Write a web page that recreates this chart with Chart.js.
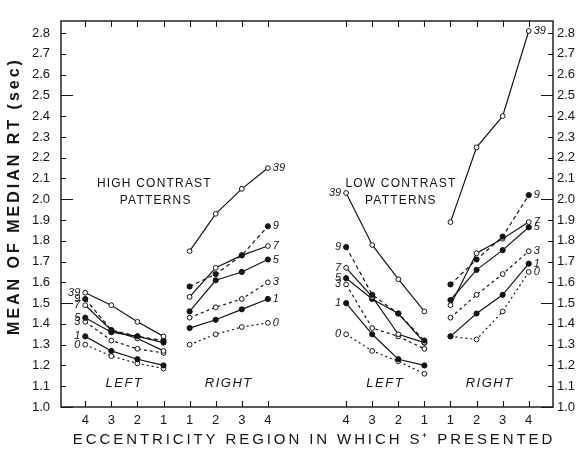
<!DOCTYPE html>
<html>
<head>
<meta charset="utf-8">
<script src="https://cdn.jsdelivr.net/npm/chart.js@4/dist/chart.umd.min.js"></script>
<style>
  html, body { margin: 0; padding: 0; background: #fff; }
</style>
</head>
<body>
<canvas id="rt-chart" width="580" height="451"></canvas>
<script>
// slot positions on the x axis: high contrast left/right, gap, low contrast left/right
const slotX = [0, 1, 2, 3, 4, 5, 6, 7, 10, 11, 12, 13, 14, 15, 16, 17];
const slotLabels = ["4", "3", "2", "1", "1", "2", "3", "4", "4", "3", "2", "1", "1", "2", "3", "4"];
const yTicks = [1.0, 1.1, 1.2, 1.3, 1.4, 1.5, 1.6, 1.7, 1.8, 1.9, 2.0, 2.1, 2.2, 2.3, 2.4, 2.5, 2.6, 2.7, 2.8];

const seriesNames = ["39", "9", "7", "5", "3", "1", "0"];

// mean of median RT (sec), in slot order: HL 4-1, HR 1-4, LL 4-1, LR 1-4
const rt39 = [1.55, 1.49, 1.41, 1.34, 1.75, 1.93, 2.05, 2.15, 2.03, 1.78, 1.615, 1.46, 1.89, 2.25, 2.40, 2.81];
const rt9 = [1.52, 1.37, 1.34, 1.32, 1.58, 1.64, 1.73, 1.87, 1.77, 1.54, 1.45, 1.32, 1.59, 1.71, 1.82, 2.02];
const rt7 = [1.49, 1.37, 1.33, 1.27, 1.53, 1.67, 1.73, 1.775, 1.67, 1.53, 1.35, 1.31, 1.49, 1.74, 1.81, 1.89];
const rt5 = [1.43, 1.36, 1.34, 1.31, 1.46, 1.61, 1.65, 1.71, 1.62, 1.52, 1.45, 1.31, 1.515, 1.66, 1.755, 1.865];
const rt3 = [1.41, 1.32, 1.28, 1.26, 1.43, 1.48, 1.52, 1.60, 1.59, 1.38, 1.34, 1.28, 1.43, 1.54, 1.64, 1.75];
const rt1 = [1.34, 1.27, 1.23, 1.20, 1.38, 1.42, 1.47, 1.52, 1.50, 1.35, 1.23, 1.20, 1.34, 1.45, 1.54, 1.69];
const rt0 = [1.30, 1.245, 1.21, 1.185, 1.30, 1.35, 1.385, 1.405, 1.35, 1.27, 1.22, 1.16, 1.34, 1.325, 1.46, 1.65];

const allSeries = [rt39, rt9, rt7, rt5, rt3, rt1, rt0];
const filledDots = [false, true, false, true, false, true, false];
const dashPatterns = [[], [4, 3], [], [], [3, 3], [], [2, 3]];

const ink = "#151515";

// break the line between each group of four
const toPoints = (vals) => {
  const pts = [];
  vals.forEach((v, i) => {
    pts.push({ x: slotX[i], y: v });
    if (i % 4 === 3 && i < vals.length - 1) pts.push({ x: slotX[i] + 0.5, y: null });
  });
  return pts;
};

const datasets = allSeries.map((vals, i) => ({
  label: seriesNames[i],
  data: toPoints(vals),
  borderColor: ink,
  borderWidth: 1.2,
  borderDash: dashPatterns[i],
  pointRadius: filledDots[i] ? 2.6 : 2.4,
  pointBorderWidth: 1,
  pointBackgroundColor: filledDots[i] ? ink : "#fff",
  pointBorderColor: ink,
  spanGaps: false,
  tension: 0,
}));

// point index (gaps included) where the series name is written
const nameAt = [
  { idx: 0, side: "left" },
  { idx: 8, side: "right" },
  { idx: 10, side: "left" },
  { idx: 18, side: "right" },
];

const paperLook = {
  id: "paperLook",
  afterDraw(chart) {
    const { ctx, chartArea: a } = chart;
    const x = chart.scales.x;
    const y = chart.scales.y;
    ctx.save();
    ctx.strokeStyle = ink;
    ctx.fillStyle = ink;

    // frame
    ctx.lineWidth = 1.4;
    ctx.strokeRect(a.left, a.top, a.right - a.left, a.bottom - a.top);

    // tick marks, all pointing inward
    ctx.lineWidth = 1.1;
    ctx.beginPath();
    slotX.forEach((v) => {
      const px = Math.round(x.getPixelForValue(v)) + 0.5;
      ctx.moveTo(px, a.bottom);
      ctx.lineTo(px, a.bottom - 6);
      ctx.moveTo(px, a.top);
      ctx.lineTo(px, a.top + 6);
    });
    yTicks.forEach((v) => {
      const py = Math.round(y.getPixelForValue(v)) + 0.5;
      const len = Math.round(v * 10) % 5 === 0 ? 12 : 5;
      ctx.moveTo(a.left, py);
      ctx.lineTo(a.left + len, py);
      ctx.moveTo(a.right, py);
      ctx.lineTo(a.right - len, py);
    });
    ctx.stroke();

    // series names at the ends of the lines
    ctx.font = 'italic 11px "Liberation Sans"';
    ctx.textBaseline = "middle";
    chart.data.datasets.forEach((ds, i) => {
      const meta = chart.getDatasetMeta(i);
      nameAt.forEach((n) => {
        const el = meta.data[n.idx];
        if (!el) return;
        if (n.side === "left") {
          ctx.textAlign = "right";
          ctx.fillText(ds.label, el.x - 5, el.y);
        } else {
          ctx.textAlign = "left";
          ctx.fillText(ds.label, el.x + 5, el.y);
        }
      });
    });

    // group captions
    ctx.letterSpacing = "1.5px";
    ctx.font = 'italic 13px "Liberation Sans"';
    ctx.textAlign = "center";
    const captionY = y.getPixelForValue(1.115);
    [[1.5, "LEFT"], [5.5, "RIGHT"], [11.5, "LEFT"], [15.5, "RIGHT"]].forEach(([v, t]) => {
      ctx.fillText(t, x.getPixelForValue(v), captionY);
    });

    ctx.font = '12px "Liberation Sans"';
    ctx.letterSpacing = "1.2px";
    ctx.fillText("HIGH CONTRAST", x.getPixelForValue(2.65), y.getPixelForValue(2.075));
    ctx.fillText("PATTERNS", x.getPixelForValue(2.7), y.getPixelForValue(1.995));
    ctx.fillText("LOW CONTRAST", x.getPixelForValue(12.1), y.getPixelForValue(2.075));
    ctx.fillText("PATTERNS", x.getPixelForValue(12.1), y.getPixelForValue(1.995));

    // axis titles
    ctx.letterSpacing = "2.9px";
    ctx.font = '15px "Liberation Sans"';
    ctx.fillText("ECCENTRICITY REGION IN WHICH S\u207A PRESENTED", 314, 440);

    ctx.translate(15, 196);
    ctx.rotate(-Math.PI / 2);
    ctx.font = 'bold 16px "Liberation Sans"';
    ctx.letterSpacing = "3px";
    ctx.fillText("MEAN OF MEDIAN RT (sec)", 0, 0);
    ctx.restore();
  },
};

const tickFont = { family: "Liberation Sans", size: 13 };

new Chart(document.getElementById("rt-chart"), {
  type: "line",
  data: { datasets },
  options: {
    responsive: false,
    animation: false,
    layout: { padding: { top: 21, left: 0, right: 0, bottom: 0 } },
    plugins: { legend: { display: false }, tooltip: { enabled: false } },
    scales: {
      x: {
        type: "linear",
        min: -0.93,
        max: 17.93,
        bounds: "data",
        afterBuildTicks: (s) => { s.ticks = slotX.map((v) => ({ value: v })); },
        afterFit: (s) => { s.height = 44; },
        ticks: {
          autoSkip: false,
          maxRotation: 0,
          padding: 6,
          color: ink,
          font: tickFont,
          callback: (v) => slotLabels[slotX.indexOf(v)],
        },
        grid: { display: false, drawTicks: false },
        border: { display: false },
      },
      y: {
        position: "left",
        min: 1.0,
        max: 2.858,
        bounds: "data",
        afterBuildTicks: (s) => { s.ticks = yTicks.map((v) => ({ value: v })); },
        afterFit: (s) => { s.width = 61; },
        ticks: { padding: 11, color: ink, font: tickFont, callback: (v) => v.toFixed(1) },
        grid: { display: false, drawTicks: false },
        border: { display: false },
      },
      y2: {
        position: "right",
        min: 1.0,
        max: 2.858,
        bounds: "data",
        afterBuildTicks: (s) => { s.ticks = yTicks.map((v) => ({ value: v })); },
        afterFit: (s) => { s.width = 27; },
        ticks: { padding: 4, color: ink, font: tickFont, callback: (v) => v.toFixed(1) },
        grid: { display: false, drawTicks: false },
        border: { display: false },
      },
    },
  },
  plugins: [paperLook],
});
</script>
</body>
</html>
